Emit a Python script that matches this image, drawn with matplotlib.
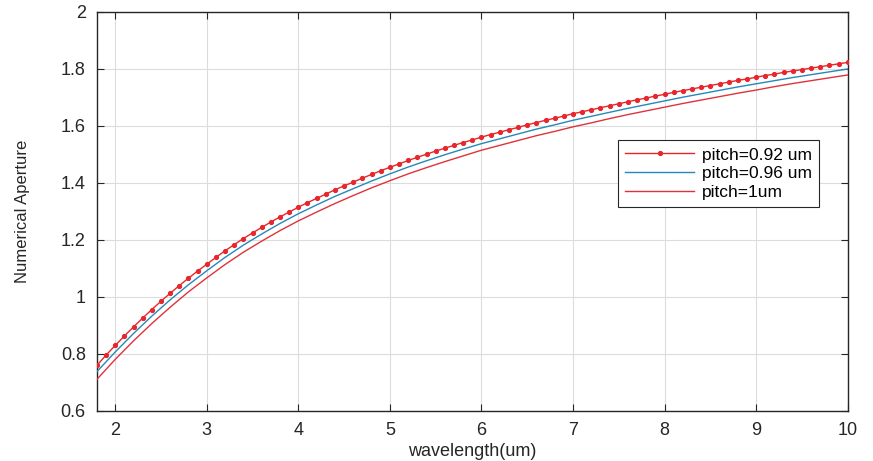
import numpy as np
import matplotlib
matplotlib.use("Agg")
import matplotlib.pyplot as plt
from matplotlib.ticker import FuncFormatter

# wavelength (um), marker series at 0.1 steps
wl_fine = [1.8, 1.9, 2.0, 2.1, 2.2, 2.3, 2.4, 2.5, 2.6, 2.7, 2.8, 2.9,
           3.0, 3.1, 3.2, 3.3, 3.4, 3.5, 3.6, 3.7, 3.8, 3.9,
           4.0, 4.1, 4.2, 4.3, 4.4, 4.5, 4.6, 4.7, 4.8, 4.9,
           5.0, 5.1, 5.2, 5.3, 5.4, 5.5, 5.6, 5.7, 5.8, 5.9,
           6.0, 6.1, 6.2, 6.3, 6.4, 6.5, 6.6, 6.7, 6.8, 6.9,
           7.0, 7.1, 7.2, 7.3, 7.4, 7.5, 7.6, 7.7, 7.8, 7.9,
           8.0, 8.1, 8.2, 8.3, 8.4, 8.5, 8.6, 8.7, 8.8, 8.9,
           9.0, 9.1, 9.2, 9.3, 9.4, 9.5, 9.6, 9.7, 9.8, 9.9, 10.0]
na_092 = [0.760, 0.796, 0.830, 0.863, 0.895, 0.926, 0.956, 0.985, 1.013, 1.040, 1.066, 1.091,
          1.115, 1.139, 1.162, 1.184, 1.205, 1.225, 1.244, 1.263, 1.281, 1.298,
          1.315, 1.331, 1.346, 1.361, 1.376, 1.390, 1.403, 1.417, 1.430, 1.443,
          1.455, 1.467, 1.479, 1.490, 1.501, 1.512, 1.522, 1.532, 1.542, 1.551,
          1.561, 1.570, 1.578, 1.587, 1.595, 1.604, 1.612, 1.620, 1.627, 1.635,
          1.643, 1.650, 1.657, 1.664, 1.671, 1.678, 1.685, 1.692, 1.698, 1.705,
          1.711, 1.718, 1.724, 1.730, 1.736, 1.742, 1.748, 1.754, 1.760, 1.765,
          1.771, 1.777, 1.782, 1.788, 1.793, 1.798, 1.803, 1.808, 1.813, 1.818, 1.823]

# other two series at 0.2 steps
wl_coarse = [1.8, 2.0, 2.2, 2.4, 2.6, 2.8, 3.0, 3.2, 3.4, 3.6, 3.8, 4.0, 4.2, 4.4,
             4.6, 4.8, 5.0, 5.2, 5.4, 5.6, 5.8, 6.0, 6.2, 6.4, 6.6, 6.8, 7.0, 7.2,
             7.4, 7.6, 7.8, 8.0, 8.2, 8.4, 8.6, 8.8, 9.0, 9.2, 9.4, 9.6, 9.8, 10.0]
na_096 = [0.738, 0.807, 0.872, 0.933, 0.990, 1.043, 1.092, 1.139, 1.182, 1.221, 1.258, 1.292,
          1.323, 1.353, 1.380, 1.407, 1.432, 1.456, 1.478, 1.499, 1.519, 1.538, 1.555, 1.572,
          1.589, 1.604, 1.620, 1.634, 1.648, 1.662, 1.675, 1.688, 1.701, 1.713, 1.725, 1.737,
          1.748, 1.759, 1.770, 1.780, 1.790, 1.800]
na_100 = [0.711, 0.781, 0.846, 0.907, 0.964, 1.018, 1.067, 1.114, 1.157, 1.196, 1.233, 1.267,
          1.298, 1.328, 1.356, 1.383, 1.408, 1.432, 1.454, 1.475, 1.495, 1.515, 1.532, 1.549,
          1.566, 1.581, 1.597, 1.611, 1.626, 1.640, 1.653, 1.666, 1.679, 1.691, 1.703, 1.715,
          1.726, 1.738, 1.749, 1.759, 1.769, 1.779]

labels = ["pitch=0.92 um", "pitch=0.96 um", "pitch=1um"]
xticks = [2, 3, 4, 5, 6, 7, 8, 9, 10]
yticks = [0.6, 0.8, 1.0, 1.2, 1.4, 1.6, 1.8, 2.0]

plt.rcParams['font.family'] = ['Liberation Sans', 'DejaVu Sans']

fig = plt.figure(figsize=(8.73, 4.61), dpi=100)
ax = fig.add_axes([0.111, 0.1085, 0.86, 0.8655])

ax.plot(wl_fine, na_092, color='#e8262c', lw=1.0, marker='.', markersize=5.5, label=labels[0], zorder=4)
ax.plot(wl_coarse, na_096, color='#2489b8', lw=1.0, label=labels[1], zorder=3)
ax.plot(wl_coarse, na_100, color='#e0323a', lw=1.0, label=labels[2], zorder=3)

ax.set_xlim(1.8, 10)
ax.set_ylim(0.6, 2.0)
ax.set_xticks(xticks)
ax.set_yticks(yticks)
ax.yaxis.set_major_formatter(FuncFormatter(lambda v, p: f"{v:g}"))
ax.grid(True, color='#dcdcdc', lw=0.8)
ax.set_axisbelow(True)
ax.tick_params(direction='in', top=True, right=True, length=5, width=0.8,
               labelsize=13, colors='#262626', pad=8)
for s in ax.spines.values():
    s.set_linewidth(1.0)
    s.set_color('#262626')

ax.set_xlabel("wavelength(um)", fontsize=13, color='#262626', labelpad=3)
ax.set_ylabel("Numerical Aperture", fontsize=12, color='#262626', labelpad=22)

leg = ax.legend(loc='upper left', bbox_to_anchor=(0.694, 0.678), fontsize=12.5,
                frameon=True, fancybox=False, edgecolor='#262626', framealpha=1,
                borderpad=0.4, labelspacing=0.2, handlelength=4.0, handletextpad=0.45,
                borderaxespad=0)
leg.get_frame().set_linewidth(0.8)

fig.savefig("out.png", dpi=100)
